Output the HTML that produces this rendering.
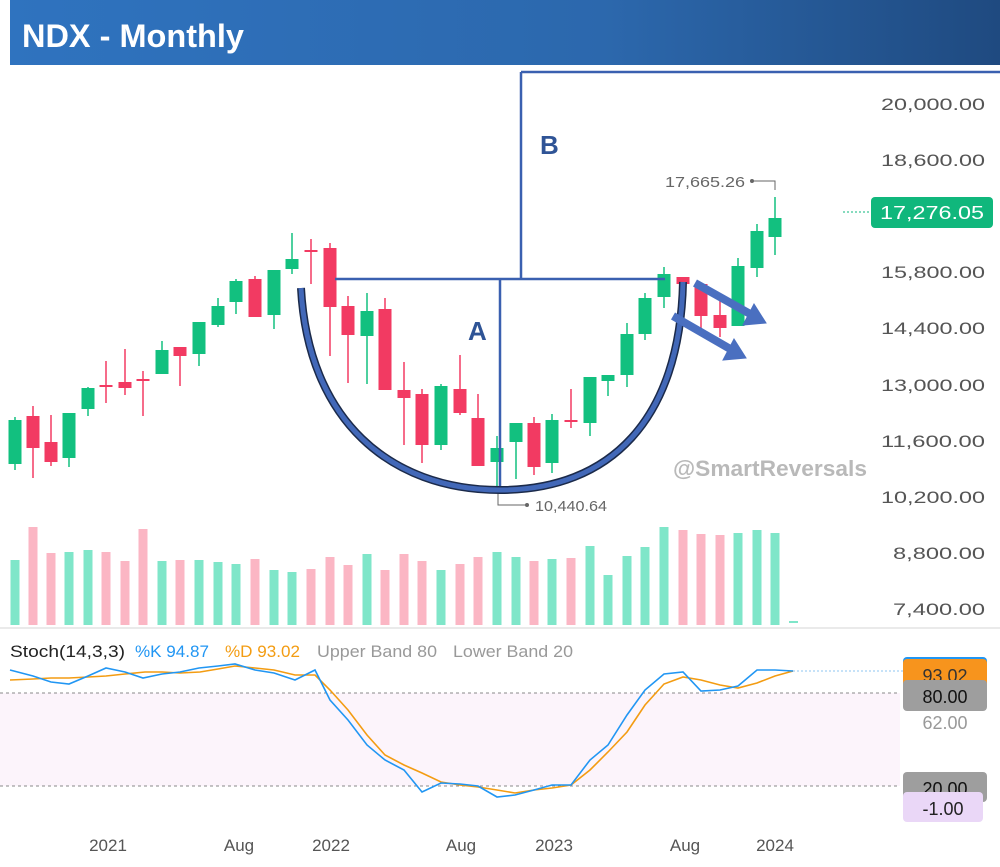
<!DOCTYPE html>
<html><head><meta charset="utf-8"><style>
body{margin:0;background:#fff;width:1000px;height:862px;overflow:hidden;font-family:"Liberation Sans",sans-serif}
</style></head><body>
<svg width="1000" height="862" xmlns="http://www.w3.org/2000/svg" font-family="Liberation Sans, sans-serif">
<defs><linearGradient id="hg" x1="0" x2="1"><stop offset="0" stop-color="#2f73bf"/><stop offset="0.6" stop-color="#2c68ad"/><stop offset="1" stop-color="#1f4a80"/></linearGradient></defs>
<rect x="10" y="0" width="990" height="65" fill="url(#hg)"/>
<text x="22" y="47" font-size="32" font-weight="bold" fill="#fff" textLength="222" lengthAdjust="spacingAndGlyphs">NDX - Monthly</text>
<g id="vol"></g><g id="cand"></g>
<line x1="0" y1="628" x2="1000" y2="628" stroke="#e3e3e3" stroke-width="1.5"/>
<g font-size="17" fill="#555" text-anchor="end" lengthAdjust="spacingAndGlyphs">
<text x="985" y="110" textLength="104" lengthAdjust="spacingAndGlyphs">20,000.00</text><text x="985" y="166" textLength="104" lengthAdjust="spacingAndGlyphs">18,600.00</text>
<text x="985" y="278" textLength="104" lengthAdjust="spacingAndGlyphs">15,800.00</text><text x="985" y="334" textLength="104" lengthAdjust="spacingAndGlyphs">14,400.00</text>
<text x="985" y="391" textLength="104" lengthAdjust="spacingAndGlyphs">13,000.00</text><text x="985" y="447" textLength="104" lengthAdjust="spacingAndGlyphs">11,600.00</text>
<text x="985" y="503" textLength="104" lengthAdjust="spacingAndGlyphs">10,200.00</text><text x="985" y="559" textLength="92" lengthAdjust="spacingAndGlyphs">8,800.00</text><text x="985" y="615" textLength="92" lengthAdjust="spacingAndGlyphs">7,400.00</text>
</g>
<line x1="843" y1="212" x2="871" y2="212" stroke="#0cb77c" stroke-dasharray="2,2"/>
<rect x="871" y="197" width="122" height="31" rx="4" fill="#10b77c"/>
<text x="932" y="219" font-size="18" fill="#fff" text-anchor="middle" textLength="104" lengthAdjust="spacingAndGlyphs">17,276.05</text>
<text x="665" y="187" font-size="15" fill="#666" textLength="80" lengthAdjust="spacingAndGlyphs">17,665.26</text>
<polyline points="752,181 775,181 775,190" fill="none" stroke="#666"/><circle cx="752" cy="181" r="2" fill="#666"/>
<polyline points="498,490 498,505 527,505" fill="none" stroke="#666"/><circle cx="527" cy="505" r="2" fill="#666"/>
<text x="535" y="511" font-size="15" fill="#666" textLength="72" lengthAdjust="spacingAndGlyphs">10,440.64</text>
<text x="673" y="476" font-size="22" font-weight="bold" fill="#b9b9b9" textLength="194" lengthAdjust="spacingAndGlyphs">@SmartReversals</text>
<g stroke="#3a60b0" stroke-width="2.5" fill="none">
<line x1="335" y1="279" x2="665" y2="279"/><line x1="500" y1="279" x2="500" y2="488"/>
<line x1="521" y1="72" x2="521" y2="279"/><line x1="521" y1="72" x2="1000" y2="72"/>
</g>
<text x="540" y="154" font-size="26" font-weight="bold" fill="#2f5496">B</text>
<text x="468" y="340" font-size="26" font-weight="bold" fill="#2f5496">A</text>
<path d="M301,288 C308,420 390,490 500,490 C610,490 680,420 683,282" fill="none" stroke="#1b2a4a" stroke-width="8"/>
<path d="M301,288 C308,420 390,490 500,490 C610,490 680,420 683,282" fill="none" stroke="#4268b8" stroke-width="5"/>
<g stroke="#4a6fc0" stroke-width="8" fill="#4a6fc0">
<line x1="695" y1="283" x2="752" y2="315"/><polygon points="766,323 743,325 754,304" stroke-width="1"/>
<line x1="673" y1="316" x2="732" y2="350"/><polygon points="746,358 723,360 734,339" stroke-width="1"/>
</g>
<rect x="0" y="693" width="900" height="93" fill="#fcf4fb"/>
<line x1="0" y1="693" x2="900" y2="693" stroke="#888" stroke-dasharray="3,3"/>
<line x1="0" y1="786" x2="900" y2="786" stroke="#888" stroke-dasharray="3,3"/>
<line x1="793" y1="671" x2="903" y2="671" stroke="#8cc4f0" stroke-dasharray="2,2"/>
<polyline id="dl" fill="none" stroke="#f39c12" stroke-width="1.6"/>
<polyline id="kl" fill="none" stroke="#2196f3" stroke-width="1.6"/>
<g font-size="17">
<text x="10" y="657" fill="#222" textLength="115" lengthAdjust="spacingAndGlyphs">Stoch(14,3,3)</text>
<text x="135" y="657" fill="#2196f3" textLength="74" lengthAdjust="spacingAndGlyphs">%K 94.87</text>
<text x="225" y="657" fill="#f39c12" textLength="75" lengthAdjust="spacingAndGlyphs">%D 93.02</text>
<text x="317" y="657" fill="#999" textLength="120" lengthAdjust="spacingAndGlyphs">Upper Band 80</text>
<text x="453" y="657" fill="#999" textLength="120" lengthAdjust="spacingAndGlyphs">Lower Band 20</text>
</g>
<rect x="903" y="657" width="84" height="30" rx="4" fill="#2196f3"/>
<rect x="903" y="659" width="84" height="30" rx="4" fill="#f7941d"/>
<text x="945" y="682" font-size="18" fill="#333" text-anchor="middle">93.02</text>
<rect x="903" y="680" width="84" height="31" rx="4" fill="#9e9e9e"/>
<text x="945" y="703" font-size="18" fill="#111" text-anchor="middle">80.00</text>
<text x="945" y="729" font-size="18" fill="#999" text-anchor="middle">62.00</text>
<rect x="903" y="772" width="84" height="30" rx="4" fill="#9e9e9e"/>
<text x="945" y="795" font-size="18" fill="#111" text-anchor="middle">20.00</text>
<rect x="903" y="792" width="80" height="30" rx="4" fill="#ead7f7"/>
<text x="943" y="815" font-size="18" fill="#222" text-anchor="middle">-1.00</text>
<g font-size="17" fill="#555" text-anchor="middle">
<text x="108" y="851">2021</text><text x="239" y="851">Aug</text><text x="331" y="851">2022</text>
<text x="461" y="851">Aug</text><text x="554" y="851">2023</text><text x="685" y="851">Aug</text><text x="775" y="851">2024</text>
</g>
</svg>
<script>
var C=[[15,'g',420,464,417,470],[33,'r',416,448,406,478],[51,'r',442,462,415,466],[69,'g',413,458,413,467],[88,'g',388,409,387,416],[106,'r',385,387,361,403],[125,'r',382,388,349,395],[143,'r',379,381,371,416],[162,'g',350,374,341,374],[180,'r',347,356,347,386],[199,'g',322,354,322,366],[218,'g',306,325,298,327],[236,'g',281,302,279,314],[255,'r',279,317,276,317],[274,'g',270,315,270,329],[292,'g',259,269,233,274],[311,'r',250,252,239,284],[330,'r',248,307,243,356],[348,'r',306,335,296,383],[367,'g',311,336,293,384],[385,'r',309,390,298,390],[404,'r',390,398,362,445],[422,'r',394,445,389,463],[441,'g',386,445,384,450],[460,'r',389,413,355,415],[478,'r',418,466,394,466],[497,'g',448,462,436,488],[516,'g',423,442,423,479],[534,'r',423,467,417,475],[552,'g',420,463,414,473],[571,'r',420,422,389,428],[590,'g',377,423,377,436],[608,'g',375,381,375,396],[627,'g',334,375,323,387],[645,'g',298,334,293,340],[664,'g',274,297,267,308],[683,'r',277,284,277,300],[701,'r',284,316,284,328],[720,'r',315,328,300,337],[738,'g',266,326,258,326],[757,'g',231,268,224,277],[775,'g',218,237,197,255]];
var V=[560,527,553,552,550,552,561,529,561,560,560,562,564,559,570,572,569,557,565,554,570,554,561,570,564,557,552,557,561,559,558,546,575,556,547,527,530,534,535,533,530,533];
var ns="http://www.w3.org/2000/svg",cg=document.getElementById('cand'),vg=document.getElementById('vol');
function el(t,a,p){var e=document.createElementNS(ns,t);for(var k in a)e.setAttribute(k,a[k]);p.appendChild(e);}
C.forEach(function(c,i){var col=c[1]=='g'?'#12c07f':'#f23a62';
el('line',{x1:c[0],x2:c[0],y1:c[4],y2:c[5],stroke:col,'stroke-width':1.5},cg);
el('rect',{x:c[0]-6.5,y:c[2],width:13,height:Math.max(2,c[3]-c[2]),fill:col},cg);
el('rect',{x:c[0]-4.5,y:V[i],width:9,height:625-V[i],fill:c[1]=='g'?'#7fe6c9':'#fbb6c4'},vg);});
el('rect',{x:789,y:621,width:9,height:2,fill:'#7fe6c9'},vg);
var K=[[10,670],[33,676],[51,682],[69,684],[88,676],[106,668],[125,672],[143,678],[162,674],[180,672],[199,668],[218,666],[235,664],[255,670],[274,673],[295,680],[315,670],[330,700],[348,720],[367,745],[385,760],[404,770],[422,792],[441,783],[460,784],[478,786],[497,797],[515,795],[534,790],[552,785],[571,785],[590,760],[608,745],[627,715],[645,690],[664,674],[683,672],[701,691],[720,690],[738,686],[757,670],[775,670],[793,671]];
var D=[[10,680],[33,679],[51,678],[69,678],[88,677],[106,676],[125,674],[145,672],[162,672],[180,673],[200,672],[218,669],[235,666],[255,668],[274,670],[295,675],[315,675],[330,690],[348,710],[367,735],[385,755],[404,765],[422,773],[441,782],[460,785],[478,787],[497,790],[515,793],[534,790],[552,788],[571,785],[590,770],[608,752],[627,732],[645,705],[664,684],[683,677],[701,680],[720,685],[738,688],[757,683],[775,676],[793,671]];
document.getElementById('kl').setAttribute('points',K.join(' '));
document.getElementById('dl').setAttribute('points',D.join(' '));
</script>
</body></html>
